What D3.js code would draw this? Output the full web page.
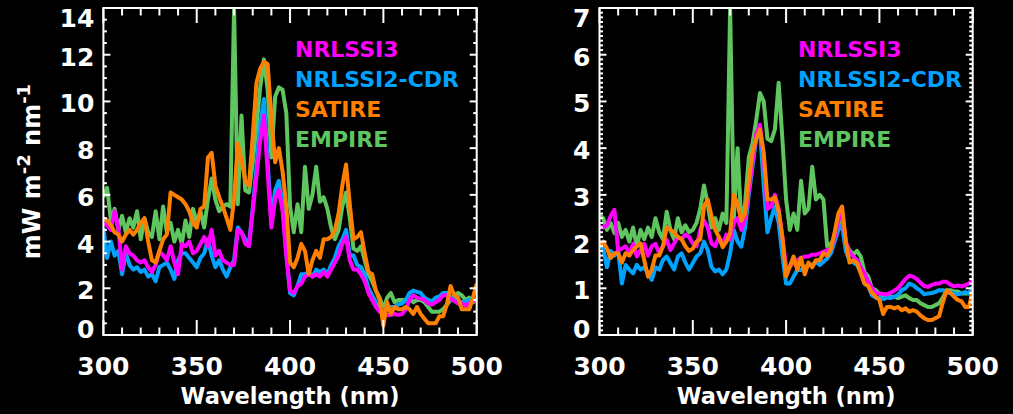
<!DOCTYPE html>
<html>
<head>
<meta charset="utf-8">
<script src="https://cdn.jsdelivr.net/npm/d3@7/dist/d3.min.js"></script>
<style>
body { margin: 0; background: #000; }
svg { display: block; background: #000; }
text { font-family: "DejaVu Sans", sans-serif; font-weight: bold; fill: #fff; }
</style>
</head>
<body>
<svg id="chart" width="1013" height="414"></svg>
<script>
var wavelength = d3.range(300, 501, 2)
var series_names = ['NRLSSI3', 'NRLSSI2-CDR', 'SATIRE', 'EMPIRE']
var series_colors = ['#ff00ff', '#00a2ff', '#ff7f00', '#5fc65f']
var x_ticks = [300, 350, 400, 450, 500]
var left_y_ticks = [0, 2, 4, 6, 8, 10, 12, 14]
var right_y_ticks = [0, 1, 2, 3, 4, 5, 6, 7]

// left panel
var left_nrlssi3 = [
    4.8, 4.7, 4.5, 5.3, 4.6, 2.8, 3.8, 3.5, 3.4, 3.2,
    3.1, 3.2, 2.9, 2.7, 3.0, 3.6, 3.4, 3.2, 3.8, 3.1,
    2.6, 3.9, 3.8, 4.0, 3.5, 3.6, 3.9, 4.2, 3.8, 4.5,
    3.4, 3.6, 3.2, 3.1, 3.0, 3.0, 4.5, 4.4, 3.9, 3.8,
    5.3, 6.8, 8.3, 9.4, 7.0, 4.6, 5.8, 6.2, 5.3, 3.4,
    1.9, 1.8, 2.1, 2.2, 2.5, 2.6, 2.5, 2.6, 2.5, 2.7,
    2.5, 2.8, 3.1, 3.4, 3.9, 4.2, 3.2, 2.8, 2.8, 2.6,
    2.3, 1.8, 1.5, 1.2, 1.0, 0.9, 0.86, 0.86, 0.9, 0.86,
    0.9, 1.1, 1.5, 1.7, 1.6, 1.55, 1.5, 1.35, 1.3, 1.4,
    1.5, 1.7, 1.7, 1.55, 1.45, 1.35, 1.35, 1.25, 1.35, 1.45,
    1.5]
var left_nrlssi2 = [
    4.6, 3.3, 4.0, 3.4, 3.6, 2.6, 3.5, 3.0, 2.8, 2.9,
    2.7, 2.8, 2.5, 2.6, 2.3, 2.9, 3.0, 3.1, 2.8, 2.4,
    3.2, 3.5, 3.5, 3.3, 3.1, 2.9, 3.3, 3.5, 4.1, 3.4,
    2.9, 3.2, 2.8, 2.5, 2.9, 3.2, 4.6, 4.4, 4.1, 3.9,
    5.4, 7.2, 9.0, 10.1, 7.4, 4.9, 6.2, 6.6, 5.6, 3.5,
    1.8, 1.7, 2.1, 2.6, 2.6, 2.7, 2.5, 2.8, 2.7, 2.8,
    2.6, 3.0, 3.3, 3.8, 4.1, 4.5, 3.4, 3.4, 3.0, 2.9,
    2.6, 2.0, 1.7, 1.4, 1.2, 1.07, 1.1, 1.2, 1.2, 1.3,
    1.35, 1.5, 1.8, 1.9, 1.85, 1.8, 1.6, 1.5, 1.45, 1.6,
    1.65, 1.8, 1.8, 1.65, 1.55, 1.45, 1.4, 1.45, 1.5, 1.55,
    1.5]
var left_satire = [
    5.0, 4.9, 4.7, 4.4, 4.3, 4.0, 4.3, 4.5, 4.3, 4.5,
    4.8, 5.0, 4.0, 3.2, 3.1, 3.6, 4.1, 4.3, 6.1, 6.0,
    5.9, 5.8, 5.6, 5.3, 4.8, 4.6, 5.4, 5.5, 7.6, 7.8,
    6.4, 5.9, 5.5, 5.0, 4.5, 5.8, 8.2, 7.5, 6.6, 6.4,
    8.5, 10.8, 11.4, 11.7, 11.6, 9.3, 7.4, 8.0, 7.0, 5.5,
    3.1, 2.9, 3.3, 3.9, 3.6, 2.6, 3.2, 3.6, 3.3, 4.1,
    4.1, 4.2, 4.5, 5.2, 6.4, 7.3, 5.6, 4.1, 4.2, 4.4,
    3.5, 2.7, 2.6, 1.9, 1.5, 0.4, 1.4, 0.9, 1.2, 1.1,
    1.1, 1.2, 1.1, 0.9, 1.2, 0.9, 0.7, 0.5, 0.5, 0.5,
    0.8, 0.8, 1.3, 2.1, 1.7, 1.6, 1.1, 1.1, 1.1, 1.6,
    2.2]
var left_empire = [
    5.9, 6.3, 4.9, 5.4, 4.5, 5.1, 4.4, 5.0, 4.6, 5.3,
    4.1, 5.0, 4.4, 4.2, 5.3, 4.1, 5.5, 4.4, 4.8, 4.0,
    4.5, 3.9, 4.9, 4.2, 5.4, 4.8, 5.3, 4.6, 5.8, 6.7,
    5.8, 5.3, 5.5, 5.6, 5.5, 14.0, 5.6, 9.4, 6.2, 6.1,
    7.4, 8.9, 10.6, 11.8, 10.5, 7.6, 10.2, 10.6, 10.5, 9.5,
    5.5, 4.4, 5.6, 4.4, 7.2, 5.4, 6.0, 7.2, 5.7, 5.9,
    5.4, 4.6, 4.1, 4.5, 5.5, 6.1, 5.0, 3.7, 3.6, 3.8,
    3.2, 2.6, 2.3, 1.9, 1.6, 1.1, 1.6, 1.8, 1.4, 1.5,
    1.5, 1.5, 1.6, 1.4, 1.5, 1.5, 1.4, 1.2, 1.0, 1.0,
    1.0, 1.1, 1.3, 1.5, 1.7, 1.8, 1.7, 1.5, 1.6, 1.4,
    1.5]

// right panel
var right_nrlssi3 = [
    2.32, 2.3, 2.35, 2.55, 2.68, 1.8, 1.85, 1.9, 1.75, 1.95,
    1.68, 1.82, 1.95, 1.7, 1.9, 1.95, 1.75, 1.9, 2.04, 1.82,
    1.96, 2.1, 2.05, 2.15, 2.1, 1.96, 1.9, 2.25, 2.45, 2.3,
    1.96, 1.9, 2.1, 1.95, 2.15, 2.04, 2.4, 2.5, 2.25, 2.5,
    3.1, 3.7, 4.3, 4.5, 3.8, 2.7, 2.75, 3.0, 2.7, 2.1,
    1.46, 1.46, 1.55, 1.6, 1.65, 1.68, 1.68, 1.72, 1.72, 1.75,
    1.78, 1.82, 1.85, 2.1, 2.45, 2.6, 2.0, 1.77, 1.68, 1.6,
    1.45, 1.32, 1.15, 1.0, 0.9, 0.89, 0.88, 0.87, 0.9, 0.95,
    1.0, 1.1, 1.2, 1.27, 1.25, 1.2, 1.12, 1.05, 1.03, 1.07,
    1.1, 1.1, 1.14, 1.14, 1.08, 1.04, 1.06, 1.04, 1.07, 1.1,
    1.18]
var right_nrlssi2 = [
    1.96, 1.85, 1.45, 1.8, 1.7, 1.8, 1.1, 1.5, 1.4, 1.32,
    1.5, 1.4, 1.45, 1.32, 1.18, 1.45, 1.4, 1.6, 1.68, 1.54,
    1.4, 1.68, 1.75, 1.55, 1.4, 1.54, 1.68, 1.75, 2.0, 1.82,
    1.46, 1.36, 1.4, 1.3, 1.4, 1.75, 2.25, 2.0, 1.89, 2.3,
    3.0, 3.6, 4.2, 4.4, 3.2, 2.2, 2.5, 2.75, 2.4, 1.7,
    1.1, 1.1, 1.25, 1.39, 1.39, 1.46, 1.5, 1.5, 1.57, 1.5,
    1.57, 1.64, 1.75, 2.0, 2.25, 2.35, 1.8, 1.6, 1.55, 1.5,
    1.35, 1.1, 1.05, 0.85, 0.8, 0.79, 0.77, 0.8, 0.79, 0.82,
    0.86, 0.96, 1.0, 1.1, 1.07, 1.0, 0.95, 0.87, 0.89, 0.9,
    0.92, 0.96, 0.96, 0.92, 0.9, 0.9, 0.87, 0.89, 0.92, 0.89,
    1.04]
var right_satire = [
    1.9, 2.0, 1.85, 1.65, 1.75, 1.75, 1.55, 1.75, 1.7, 1.82,
    1.9, 1.96, 1.6, 1.25, 1.4, 1.7, 1.7, 1.9, 2.3, 2.25,
    2.2, 2.1, 2.05, 1.9, 1.8, 1.85, 2.0, 2.05, 2.75, 2.9,
    2.55, 2.25, 2.1, 1.88, 2.0, 2.18, 3.0, 2.8, 2.45, 2.6,
    3.3, 3.9, 4.2, 4.4, 3.9, 2.9, 2.9, 2.95, 2.65, 2.1,
    1.25, 1.46, 1.68, 1.4, 1.65, 1.3, 1.55, 1.45, 1.6, 1.6,
    1.75, 1.7, 1.85, 2.2, 2.6, 2.75, 2.0, 1.55, 1.6, 1.54,
    1.32, 1.1, 1.05, 0.9, 0.82, 0.75, 0.45, 0.6, 0.6, 0.57,
    0.6, 0.53, 0.57, 0.5, 0.53, 0.5, 0.42, 0.36, 0.32, 0.32,
    0.36, 0.4, 0.7, 0.95, 0.9, 0.82, 0.75, 0.72, 0.6, 0.6,
    0.95]
var right_empire = [
    2.57, 2.5, 2.25, 2.4, 2.18, 2.4, 2.1, 2.25, 2.0, 2.3,
    1.9, 2.25, 2.05, 2.3, 2.1, 2.5, 2.2, 2.05, 2.64, 2.25,
    2.05, 2.5, 2.2, 2.35, 2.2, 2.25, 2.4, 2.7, 3.2, 2.8,
    2.3, 2.5, 2.25, 2.6, 2.4, 7.0, 2.5, 4.0, 2.35, 2.8,
    3.8, 4.1, 4.6, 5.18, 5.0, 4.2, 4.15, 4.4, 5.4, 4.2,
    2.9, 2.25, 2.6, 2.25, 3.3, 2.6, 2.7, 3.6, 2.9, 3.0,
    2.9, 1.9, 1.96, 2.05, 2.3, 2.46, 1.95, 1.82, 1.72, 1.8,
    1.68, 1.35, 1.25, 1.0, 0.96, 0.89, 0.82, 0.85, 0.82, 0.82,
    0.79, 0.82, 0.85, 0.79, 0.75, 0.75, 0.68, 0.64, 0.6, 0.6,
    0.64, 0.68, 0.8, 0.96, 0.96, 0.93, 0.93, 0.89, 0.89, 0.89,
    0.96]

var svg = d3.select('#chart')
let plot_top = 8,
    plot_bottom = 335

var panels = [{
    'id': 'left',
    'x0': 103.4, 'x1': 476.7,
    'ymax': 14, 'y_ticks': left_y_ticks, 'minor': 0.5,
    'series': [left_nrlssi3, left_nrlssi2, left_satire, left_empire],
    'legend_x': 295,
}, {
    'id': 'right',
    'x0': 599.5, 'x1': 972.7,
    'ymax': 7, 'y_ticks': right_y_ticks, 'minor': 0.1,
    'series': [right_nrlssi3, right_nrlssi2, right_satire, right_empire],
    'legend_x': 798,
}]

// bottom-to-top drawing order: EMPIRE, NRLSSI2-CDR, NRLSSI3, SATIRE
let draw_order = [3, 1, 0, 2]

panels.forEach(drawPanel)

function drawPanel(p) {
    var x = d3.scaleLinear().domain([300, 500]).range([p.x0, p.x1])
    var y = d3.scaleLinear().domain([0, p.ymax]).range([plot_bottom, plot_top])
    var g = svg.append('g').attr('class', 'panel_' + p.id)

    g.append('clipPath').attr('id', 'clip_' + p.id)
        .append('rect')
        .attr('x', p.x0).attr('y', plot_top)
        .attr('width', p.x1 - p.x0).attr('height', plot_bottom - plot_top)

    var line = d3.line()
        .x((d, i) => x(wavelength[i]))
        .y((d) => y(d))

    g.append('g')
        .attr('clip-path', 'url(#clip_' + p.id + ')')
        .selectAll('path')
        .data(draw_order)
        .enter().append('path')
        .attr('d', (k) => line(p.series[k]))
        .attr('fill', 'none')
        .attr('stroke', (k) => series_colors[k])
        .attr('stroke-width', 4)
        .attr('stroke-linejoin', 'round')

    // frame
    g.append('rect')
        .attr('x', p.x0).attr('y', plot_top)
        .attr('width', p.x1 - p.x0).attr('height', plot_bottom - plot_top)
        .attr('fill', 'none').attr('stroke', '#fff').attr('stroke-width', 2)

    // x ticks, bottom and top
    var x_minor = d3.range(300, 501, 10)
    var ticks = g.append('g').attr('stroke', '#fff').attr('stroke-width', 2)
    x_minor.forEach((v) => {
        let len = x_ticks.indexOf(v) >= 0 ? 15 : 7.5
        ticks.append('line').attr('x1', x(v)).attr('x2', x(v))
            .attr('y1', plot_bottom).attr('y2', plot_bottom - len)
        ticks.append('line').attr('x1', x(v)).attr('x2', x(v))
            .attr('y1', plot_top).attr('y2', plot_top + len)
    })

    // y ticks, left and right
    var y_minor = d3.range(0, p.ymax + p.minor / 2, p.minor)
    y_minor.forEach((v) => {
        let major = p.y_ticks.some((t) => Math.abs(t - v) < 1e-6)
        let len = major ? 7 : 3.5
        ticks.append('line').attr('x1', p.x0).attr('x2', p.x0 + len)
            .attr('y1', y(v)).attr('y2', y(v))
        ticks.append('line').attr('x1', p.x1).attr('x2', p.x1 - len)
            .attr('y1', y(v)).attr('y2', y(v))
    })

    g.selectAll('.x_label')
        .data(x_ticks)
        .enter().append('text')
        .attr('class', 'x_label')
        .attr('x', (d) => x(d))
        .attr('y', 375)
        .attr('text-anchor', 'middle')
        .style('font-size', '25px')
        .text((d) => d)

    g.selectAll('.y_label')
        .data(p.y_ticks)
        .enter().append('text')
        .attr('class', 'y_label')
        .attr('x', p.x0 - 9)
        .attr('y', (d) => Math.max(plot_top + 10, Math.min(plot_bottom - 6, y(d) + 2)))
        .attr('dy', '0.36em')
        .attr('text-anchor', 'end')
        .style('font-size', '25px')
        .text((d) => d)

    g.append('text')
        .attr('x', (p.x0 + p.x1) / 2)
        .attr('y', 404)
        .attr('text-anchor', 'middle')
        .style('font-size', '22.5px')
        .text('Wavelength (nm)')

    g.selectAll('.legend')
        .data(series_names)
        .enter().append('text')
        .attr('class', 'legend')
        .attr('x', p.legend_x)
        .attr('y', (d, i) => 57 + i * 30)
        .style('font-size', '22px')
        .style('fill', (d, i) => series_colors[i])
        .text((d) => d)
}

var y_title = svg.append('text')
    .attr('transform', 'translate(40,' + (plot_top + plot_bottom) / 2 + ') rotate(-90)')
    .attr('text-anchor', 'middle')
    .style('font-size', '24px')
y_title.append('tspan').text('mW m')
y_title.append('tspan').attr('dy', -10).style('font-size', '18px').text('-2')
y_title.append('tspan').attr('dy', 10).text(' nm')
y_title.append('tspan').attr('dy', -10).style('font-size', '18px').text('-1')
</script>
</body>
</html>
